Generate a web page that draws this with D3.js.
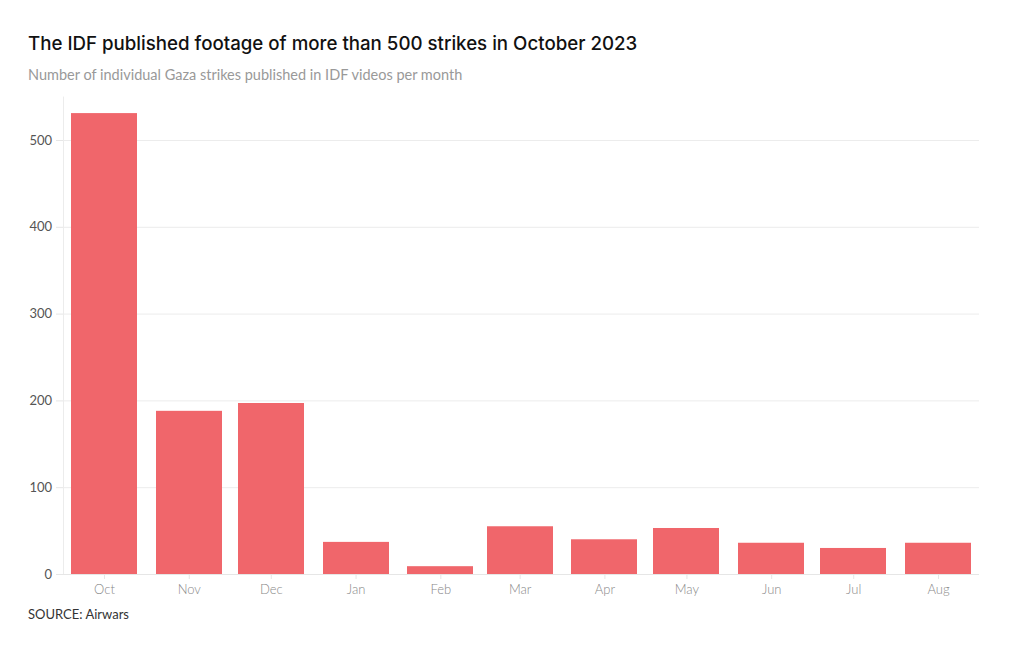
<!DOCTYPE html>
<html><head><meta charset="utf-8">
<script src="https://cdn.jsdelivr.net/npm/d3@7"></script>
<style>
body{margin:0;background:#fff;font-family:"Noto Sans",sans-serif;}
</style></head><body>
<svg id="c" width="1020" height="650"></svg>
<script>
const months = ["2023-10-01","2023-11-01","2023-12-01","2024-01-01","2024-02-01","2024-03-01","2024-04-01","2024-05-01","2024-06-01","2024-07-01","2024-08-01"];
const monthLabels = ["Oct","Nov","Dec","Jan","Feb","Mar","Apr","May","Jun","Jul","Aug"];
const strikes = [531, 188, 197, 37, 9, 55, 40, 53, 36, 30, 36];
const yTicks = [0, 100, 200, 300, 400, 500];

(function(){
const svg = d3.select("#c");
const parse = d3.utcParse("%Y-%m-%d");
const dates = months.map(parse);
const mLeft = 63, mRight = 979, mTop = 96.6, mBottom = 574;

const x = d3.scaleUtc().domain([parse("2023-09-16"), parse("2024-08-16")]).range([mLeft, mRight]);
const y = d3.scaleLinear().domain([0, 550]).range([mBottom, mTop]);

svg.append("text").attr("x", 28).attr("y", 50).text("The IDF published footage of more than 500 strikes in October 2023")
  .style("font-family","Inter, sans-serif").style("font-size","18.7px").style("font-weight",500).attr("fill","#111");
svg.append("text").attr("x", 28).attr("y", 80).text("Number of individual Gaza strikes published in IDF videos per month")
  .style("font-family","Lato, sans-serif").style("font-size","14.5px").attr("fill","#999");

// gridlines
svg.append("g").selectAll("line").data(yTicks.filter(d=>d>0)).join("line")
  .attr("x1", mLeft).attr("x2", mRight).attr("y1", d=>y(d)+0.5).attr("y2", d=>y(d)+0.5)
  .attr("stroke","#ececec").attr("stroke-width",1);
svg.append("line").attr("x1",mLeft+0.5).attr("x2",mLeft+0.5).attr("y1",mTop).attr("y2",mBottom).attr("stroke","#ececec");

// bars
const bw = 66;
svg.append("g").selectAll("rect").data(strikes).join("rect")
  .attr("x", (d,i)=>Math.round(x(dates[i]) - bw/2)).attr("width", bw)
  .attr("y", d=>y(d)).attr("height", d=>mBottom - y(d))
  .attr("fill","#f0666b");

// y axis
const ya = svg.append("g").attr("transform",`translate(${mLeft},0)`)
  .call(d3.axisLeft(y).tickValues(yTicks).tickSize(7).tickPadding(4));
ya.select(".domain").remove();
ya.selectAll("line").attr("stroke","#e6e6e6");
ya.selectAll("text").style("font-family","Lato, sans-serif").style("font-size","13px").attr("fill","#555");

// x axis
const xa = svg.append("g").attr("transform",`translate(0,${mBottom})`)
  .call(d3.axisBottom(x).tickValues(dates).tickFormat((d,i)=>monthLabels[i]).tickSize(5).tickPadding(6));
xa.select(".domain").attr("stroke","#e6e6e6").attr("d", `M${mLeft},0.5H${mRight}`);
xa.selectAll("line").attr("stroke","#e6e6e6");
xa.selectAll("text").style("font-family","Lato, sans-serif").style("font-size","13px").style("font-weight",300).attr("fill","#888");

svg.append("text").attr("x", 28).attr("y", 619).text("SOURCE: Airwars")
  .style("font-family","Lato, sans-serif").style("font-size","13px").attr("fill","#333");
})();
</script></body></html>
